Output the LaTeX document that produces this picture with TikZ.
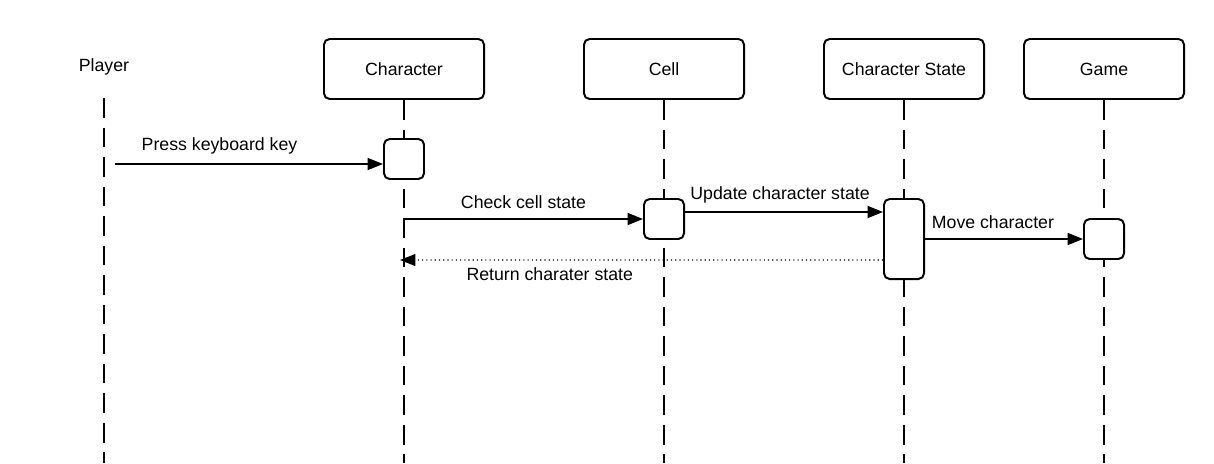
\documentclass[tikz,border=0pt]{standalone}
\usepackage{fontspec}
\setmainfont{Liberation Sans}
\usetikzlibrary{arrows.meta,positioning}

\begin{document}
\begin{tikzpicture}[x=0.025cm, y=-0.025cm,
      head/.style={draw, rounded corners=4pt, line width=1.4pt, minimum width=4cm,
                   minimum height=1.5cm, font=\fontsize{12.6}{14}\selectfont},
      act/.style={draw, fill=white, rounded corners=4pt, line width=1.4pt,
                  minimum width=1cm, minimum height=1cm},
      life/.style={line width=1.3pt, dash pattern=on 14pt off 7pt},
      msg/.style={-{Triangle[length=11pt,width=8.5pt]}, line width=1.4pt},
      ret/.style={-{Triangle[length=11pt,width=8.5pt]}, line width=0.8pt,
                  dash pattern=on 0.8pt off 2.2pt},
      lbl/.style={font=\fontsize{12.6}{14}\selectfont}
    ]
      \useasboundingbox (0,0) rectangle (1214,463);

      % heads
      \node[lbl] (player) at (104,67) {Player};
      \node[head] (chr) at (404,69) {Character};
      \node[head] (cell) at (664,69) {Cell};
      \node[head] (state) at (904,69) {Character State};
      \node[head] (game) at (1104,69) {Game};

      % lifelines
      \coordinate (playertop) at (104,98);
      \draw[life] (playertop) -- (104,463);
      \draw[life] (chr.south) -- (404,463);
      \draw[life] (cell.south) -- (664,463);
      \draw[life] (state.south) -- (904,463);
      \draw[life] (game.south) -- (1104,463);

      % activations
      \node[act] (chrA) at (404,159) {};
      \node[act] (cellA) at (664,219) {};
      \node[act, minimum height=2cm] (stateA) at (904,239) {};
      \node[act] (gameA) at (1104,239) {};

      % messages
      \coordinate (press) at (115,164);
      \coordinate (check) at (404,219);
      \coordinate (back) at (400,260);
      \draw[msg] (press) -- (press -| chrA.west)
        node[lbl, above=3pt, pos=0.39] {Press keyboard key};
      \draw[msg] (check) -- (cellA.west)
        node[lbl, above=3pt, pos=0.5] {Check cell state};
      \draw[msg] ([yshift=0.175cm]cellA.east) -- ([yshift=0.675cm]stateA.west)
        node[lbl, above=2pt, pos=0.48] {Update character state};
      \draw[msg] (stateA.east) -- (gameA.west)
        node[lbl, above=3pt, pos=0.43] {Move character};
      \draw[ret] ([yshift=-0.525cm]stateA.west) -- (back)
        node[lbl, below=2pt, pos=0.69] {Return charater state};
    \end{tikzpicture}
\end{document}
